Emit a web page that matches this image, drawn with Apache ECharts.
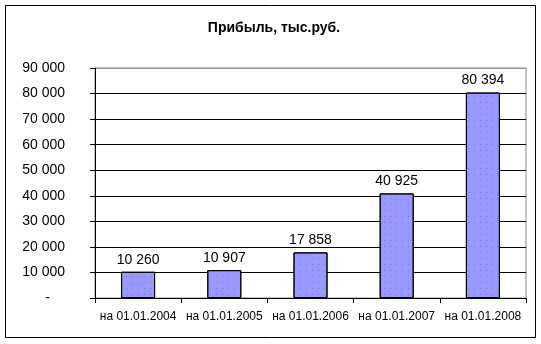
<!DOCTYPE html>
<html><head><meta charset="utf-8">
<script src="https://cdn.jsdelivr.net/npm/echarts@6/dist/echarts.min.js"></script>
<style>html,body{margin:0;padding:0;background:#fff}#c{width:541px;height:344px}</style>
</head><body><div id="c"></div>
<script>
var categories = ['на 01.01.2004','на 01.01.2005','на 01.01.2006','на 01.01.2007','на 01.01.2008'];
var profit = [10260, 10907, 17858, 40925, 80394];
var titleText = 'Прибыль, тыс.руб.';

function num(v){ return String(v).replace(/\B(?=(\d{3})+(?!\d))/g,' '); }
function fmtAxis(v){ if(v===0) return '{z|-}'; return num(v); }
var FONT = '"Liberation Sans", Arial, sans-serif';
var chart = echarts.init(document.getElementById('c'), null, {renderer:'canvas'});
chart.setOption({
  animation:false,
  backgroundColor:'#fff',
  title:{text:titleText,left:269,textAlign:'center',top:16,textStyle:{fontFamily:FONT,fontSize:14,fontWeight:'bold',color:'#000'}},
  graphic:[{type:'rect',shape:{x:5.5,y:5.5,width:530,height:332},style:{fill:null,stroke:'#000',lineWidth:1},silent:true}],
  grid:{left:95,top:68,right:15,bottom:46,show:true,borderColor:'#888',borderWidth:1,backgroundColor:'transparent'},
  xAxis:{type:'category',data:categories,
    axisLine:{lineStyle:{color:'#000',width:1}},
    axisTick:{show:true,length:5,alignWithLabel:false,lineStyle:{color:'#000'}},
    axisLabel:{fontFamily:FONT,fontSize:12,color:'#000',margin:13,interval:0}},
  yAxis:{type:'value',min:0,max:90000,interval:10000,
    axisLine:{show:true,lineStyle:{color:'#000',width:1}},
    axisTick:{show:true,length:5,inside:false,lineStyle:{color:'#000'}},
    axisLabel:{fontFamily:FONT,fontSize:14,color:'#000',margin:30,formatter:fmtAxis,
      rich:{z:{fontFamily:FONT,fontSize:14,color:'#000',padding:[0,15,0,0]}}},
    splitLine:{show:true,lineStyle:{color:['#000','#000','#000','#000','#000','#000','#000','#000','#000','#999'],width:1}}},
  series:[{type:'bar',data:profit,barWidth:34,
    itemStyle:{color:'#9999ff',borderColor:'#000',borderWidth:1,
      decal:{symbol:'rect',symbolSize:1,color:'#7777dd',dashArrayX:[1,5],dashArrayY:[1,5],rotation:0}},
    label:{show:true,position:'top',distance:5,fontFamily:FONT,fontSize:14,color:'#000',formatter:function(p){return num(p.value);}}}]
});
</script></body></html>
